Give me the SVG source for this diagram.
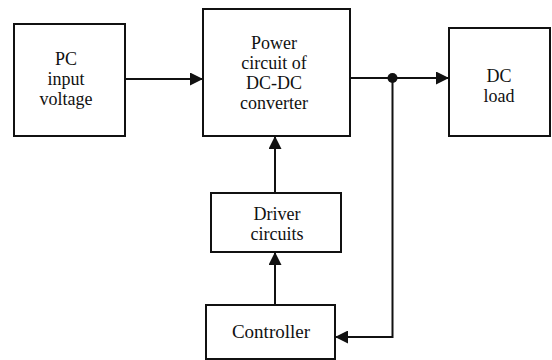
<svg xmlns="http://www.w3.org/2000/svg" width="552" height="360" viewBox="0 0 552 360">
<style>
.box{fill:#fff;stroke:#111;stroke-width:2}
.wire{fill:none;stroke:#111;stroke-width:2}
</style>
<defs>
<marker id="ah" markerUnits="userSpaceOnUse" markerWidth="13" markerHeight="13" refX="13" refY="6.5" orient="auto">
<path d="M0,0 L13,6.5 L0,13 Z" fill="#111"/>
</marker>
</defs>
<rect width="552" height="360" fill="#fff"/>
<g id="pc-input">
<rect class="box" x="14" y="24" width="111" height="112"/>
<text font-family="Liberation Serif" font-size="18" fill="#111" text-anchor="middle" x="66" y="65">PC</text>
<text font-family="Liberation Serif" font-size="18" fill="#111" text-anchor="middle" x="66" y="85">input</text>
<text font-family="Liberation Serif" font-size="18" fill="#111" text-anchor="middle" x="66" y="105">voltage</text>
</g>
<g id="power-circuit">
<rect class="box" x="203" y="9" width="147" height="127"/>
<text font-family="Liberation Serif" font-size="18" fill="#111" text-anchor="middle" x="274" y="49">Power</text>
<text font-family="Liberation Serif" font-size="18" fill="#111" text-anchor="middle" x="274" y="69">circuit of</text>
<text font-family="Liberation Serif" font-size="18" fill="#111" text-anchor="middle" x="274" y="89">DC-DC</text>
<text font-family="Liberation Serif" font-size="18" fill="#111" text-anchor="middle" x="274" y="109">converter</text>
</g>
<g id="dc-load">
<rect class="box" x="449" y="28" width="101" height="108"/>
<text font-family="Liberation Serif" font-size="18" fill="#111" text-anchor="middle" x="499" y="82">DC</text>
<text font-family="Liberation Serif" font-size="18" fill="#111" text-anchor="middle" x="499" y="102">load</text>
</g>
<g id="driver">
<rect class="box" x="211" y="193" width="130" height="59"/>
<text font-family="Liberation Serif" font-size="18" fill="#111" text-anchor="middle" x="277" y="220">Driver</text>
<text font-family="Liberation Serif" font-size="18" fill="#111" text-anchor="middle" x="277" y="240">circuits</text>
</g>
<g id="controller">
<rect class="box" x="206" y="305" width="129" height="54"/>
<text font-family="Liberation Serif" font-size="19" fill="#111" text-anchor="middle" x="271" y="338">Controller</text>
</g>
<g id="connectors">
<line class="wire" x1="125" y1="79" x2="203" y2="79" marker-end="url(#ah)"/>
<line class="wire" x1="350" y1="78" x2="449" y2="78" marker-end="url(#ah)"/>
<circle cx="392.5" cy="78" r="5" fill="#111"/>
<polyline class="wire" points="392.5,78 392.5,337 335,337" marker-end="url(#ah)"/>
<line class="wire" x1="275" y1="193" x2="275" y2="136" marker-end="url(#ah)"/>
<line class="wire" x1="275" y1="305" x2="275" y2="252" marker-end="url(#ah)"/>
</g>
</svg>
